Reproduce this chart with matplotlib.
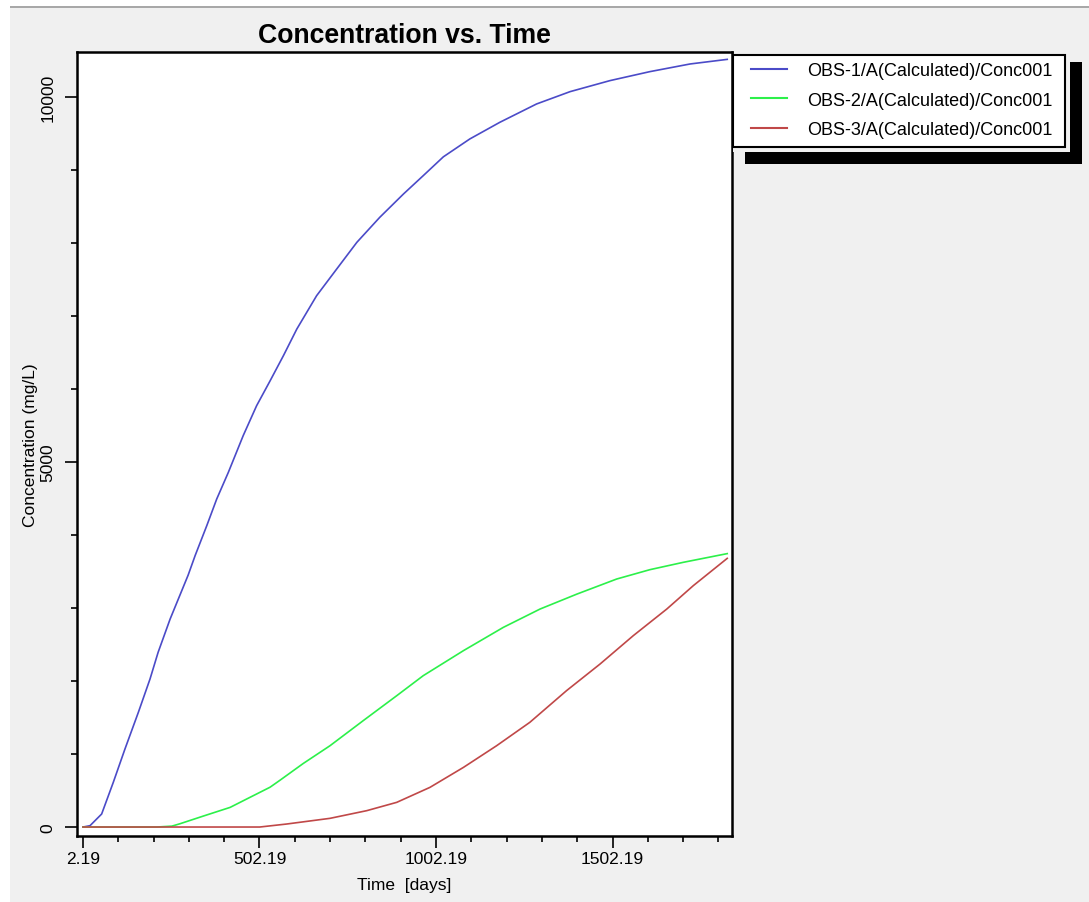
import numpy as np
import matplotlib
matplotlib.use("Agg")
import matplotlib.pyplot as plt
from matplotlib.patches import Rectangle
from matplotlib.ticker import FixedLocator, MultipleLocator

plt.rcParams['font.family'] = ['Liberation Sans', 'DejaVu Sans']

# values
t_obs1 = [2.19, 22, 55, 88, 121, 159, 192, 215, 249, 300, 320, 353, 381, 414, 456,
          494, 532, 570, 608, 664, 721, 778, 843, 910, 966, 1023, 1098, 1183, 1287,
          1382, 1495, 1608, 1722, 1827.19]
c_obs1 = [0, 18, 178, 612, 1068, 1571, 2027, 2393, 2849, 3450, 3720, 4130, 4493, 4859,
          5361, 5771, 6110, 6457, 6822, 7278, 7644, 8009, 8352, 8671, 8922, 9180, 9425,
          9653, 9904, 10073, 10224, 10347, 10452, 10515]

t_obs2 = [2.19, 211, 254, 277, 343, 419, 466, 532, 560, 626, 702, 796, 891, 966, 1080,
          1193, 1297, 1401, 1514, 1608, 1703, 1827.19]
c_obs2 = [0, 0, 12, 45, 150, 269, 384, 545, 640, 870, 1114, 1457, 1799, 2073, 2416,
          2735, 2986, 3190, 3397, 3525, 3626, 3745]

t_obs3 = [2.19, 503, 579, 702, 806, 891, 985, 1080, 1174, 1268, 1372, 1467, 1561, 1656,
          1731, 1827.19]
c_obs3 = [0, 0, 41, 119, 224, 338, 543, 817, 1114, 1434, 1868, 2233, 2621, 2986, 3306,
          3680]

labels = ["OBS-1/A(Calculated)/Conc001", "OBS-2/A(Calculated)/Conc001",
          "OBS-3/A(Calculated)/Conc001"]
colors = ["#4b4bc8", "#2cf04a", "#c04848"]

x_major = [2.19, 502.19, 1002.19, 1502.19]
x_minor = [2.19 + 100 * i for i in range(19)]

W, H = 1089, 903
fig = plt.figure(figsize=(W / 100, H / 100), dpi=100, facecolor="#f0f0f0")

def px_rect(x0, y0, x1, y1, **kw):
    # rectangle in figure pixels measured from the top-left corner
    r = Rectangle((x0 / W, 1 - y1 / H), (x1 - x0) / W, (y1 - y0) / H,
                  transform=fig.transFigure, **kw)
    fig.add_artist(r)
    return r

# white border strips of the screenshot
px_rect(0, 0, W, 7, facecolor="white", edgecolor="none")
px_rect(0, 0, 10, H, facecolor="white", edgecolor="none")
px_rect(10, 7, W, 8.5, facecolor="#a8a8a8", edgecolor="none")

ax = fig.add_axes([77 / W, 1 - 837 / H, (732 - 77) / W, (837 - 53) / H])
ax.set_facecolor("white")

lines = []
for t, c, col, lab in zip([t_obs1, t_obs2, t_obs3], [c_obs1, c_obs2, c_obs3], colors, labels):
    ln, = ax.plot(t, c, color=col, lw=1.2, label=lab)
    lines.append(ln)

ax.set_xlim(-14.8, 1840.7)
ax.set_ylim(-123, 10616)

ax.xaxis.set_major_locator(FixedLocator(x_major))
ax.xaxis.set_minor_locator(FixedLocator(x_minor))
ax.set_xticklabels(["2.19", "502.19", "1002.19", "1502.19"])
ax.yaxis.set_major_locator(FixedLocator([0, 5000, 10000]))
ax.yaxis.set_minor_locator(MultipleLocator(1000))

ax.tick_params(which="major", direction="out", length=8.5, width=1.2, labelsize=12.5,
               top=False, right=False)
ax.tick_params(which="minor", direction="out", length=4, width=1.2, top=False, right=False)
ax.tick_params(axis="x", which="major", pad=2)
ax.tick_params(axis="y", which="major", labelrotation=90, pad=7)
for lab in ax.get_yticklabels():
    lab.set_va("center")

for s in ax.spines.values():
    s.set_linewidth(1.8)
    s.set_color("black")

ax.set_xlabel("Time  [days]", fontsize=12.5, labelpad=8)
ax.set_ylabel("Concentration (mg/L)", fontsize=12.5, labelpad=2)
ax.set_title("Concentration vs. Time", fontsize=19.2, fontweight="bold", pad=7)

# legend with a hard black drop shadow
px_rect(745, 63, 1082, 165, facecolor="black", edgecolor="none", zorder=5)
px_rect(733, 56, 1070, 153, facecolor="#f0f0f0", edgecolor="none", zorder=6)
px_rect(733, 56, 1065, 148, facecolor="white", edgecolor="black", lw=1.5, zorder=7)
leg = fig.legend(lines, labels, loc="upper left",
                 bbox_to_anchor=(751 / W, 1 - 63 / H), bbox_transform=fig.transFigure,
                 frameon=False, fontsize=13, borderpad=0, borderaxespad=0,
                 handlelength=2.0, handletextpad=1.1, labelspacing=0.7)
leg.set_zorder(8)
for h in leg.legend_handles:
    h.set_linewidth(1.5)

fig.savefig("out.png", dpi=100, facecolor=fig.get_facecolor())
